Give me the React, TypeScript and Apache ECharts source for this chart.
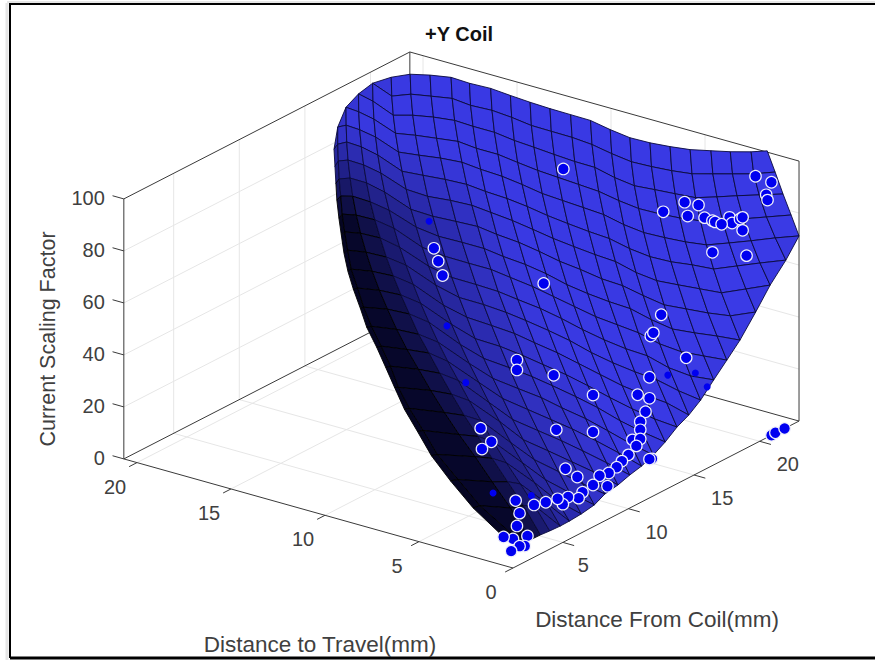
import React, { useEffect, useRef } from "react";
import * as echarts from "echarts";

const titleText = "+Y Coil";
const xAxisName = "Distance From Coil(mm)";
const yAxisName = "Distance to Travel(mm)";
const zAxisName = "Current Scaling Factor";
const xTicks = [5, 10, 15, 20];
const yTicks = [0, 5, 10, 15, 20];
const zTicks = [0, 20, 40, 60, 80, 100];

// surface: one x per mesh column; for each column the travel distance and the scaling factor per mesh row
const surfaceX = [1.2,1.8,2.5,3.3,4.0,4.8,5.5,6.4,7.4,8.2,9.2,10.1,11.0,11.9,12.8,13.7,14.6,15.5,16.5,17.5,18.5,19.7,20.8,22.0,23.0];
const surfaceFirstRow = [5,4,3,2,1,0,0,0,0,0,0,0,0,0,0,0,0,0,0,0,0,0,0,0,0];
const surfaceY = [
[9.52,9.47,9.42,9.37,9.26,9.13,8.99,8.78,8.49,8.12,7.78,7.25,6.77,6.3,5.77,5.08,4.34,3.33,2.12,0],
[9.74,9.74,9.71,9.66,9.58,9.5,9.37,9.21,9.02,8.68,8.36,7.94,7.43,6.93,6.51,5.93,5.19,4.44,3.33,2.17,0],
[9.79,9.78,9.75,9.68,9.57,9.43,9.24,9.01,8.72,8.39,8.01,7.58,7.09,6.54,5.93,5.28,4.55,3.77,2.92,2.01,1.04,0],
[9.68,9.67,9.62,9.53,9.41,9.25,9.05,8.81,8.52,8.2,7.83,7.42,6.97,6.48,5.93,5.35,4.72,4.05,3.33,2.57,1.75,.9,0],
[9.42,9.40,9.35,9.26,9.14,8.98,8.78,8.54,8.28,7.98,7.64,7.26,6.86,6.42,5.93,5.42,4.86,4.28,3.65,3,2.3,1.56,.8,0],
[8.99,8.96,8.88,8.76,8.6,8.41,8.19,7.94,7.65,7.33,6.99,6.61,6.2,5.77,5.3,4.83,4.32,3.78,3.21,2.62,2,1.36,.68,0],
[8.47,8.43,8.33,8.18,8,7.78,7.54,7.26,6.95,6.62,6.25,5.86,5.45,5.01,4.55,4.06,3.54,3.01,2.45,1.86,1.27,.64,0],
[8.04,7.98,7.86,7.69,7.48,7.23,6.95,6.66,6.33,5.97,5.59,5.19,4.76,4.31,3.84,3.34,2.84,2.3,1.76,1.19,.6,0],
[7.62,7.56,7.43,7.25,7.04,6.79,6.51,6.2,5.86,5.49,5.11,4.69,4.25,3.79,3.31,2.81,2.29,1.74,1.18,.6,0],
[7.2,7.14,7.01,6.83,6.6,6.35,6.06,5.75,5.4,5.02,4.62,4.2,3.74,3.28,2.79,2.28,1.73,1.17,.6,0],
[6.77,6.7,6.57,6.38,6.16,5.9,5.61,5.27,4.92,4.54,4.13,3.69,3.23,2.75,2.24,1.71,1.16,.6,0],
[6.35,6.28,6.14,5.96,5.72,5.45,5.15,4.81,4.45,4.06,3.63,3.19,2.71,2.22,1.7,1.16,.59,0],
[5.93,5.86,5.72,5.52,5.28,5,4.7,4.35,3.97,3.57,3.13,2.67,2.19,1.68,1.14,.58,0],
[5.5,5.43,5.28,5.08,4.83,4.55,4.23,3.88,3.49,3.07,2.62,2.15,1.65,1.12,.58,0],
[5.03,4.95,4.81,4.6,4.35,4.06,3.73,3.37,2.98,2.55,2.09,1.61,1.1,.56,0],
[4.6,4.52,4.37,4.16,3.9,3.6,3.27,2.89,2.48,2.05,1.58,1.08,.55,0],
[4.18,4.1,3.94,3.72,3.46,3.15,2.8,2.42,1.99,1.54,1.06,.54,0],
[3.76,3.68,3.52,3.29,3.02,2.69,2.33,1.94,1.5,1.03,.53,0],
[3.39,3.31,3.13,2.89,2.61,2.27,1.89,1.47,1.02,.53,0],
[3.02,2.93,2.75,2.5,2.2,1.84,1.44,1,.52,0],
[2.65,2.55,2.36,2.1,1.78,1.4,.98,.51,0],
[2.38,2.28,2.06,1.77,1.41,.99,.52,0],
[2.12,2,1.76,1.42,1.01,.54,0],
[1.85,1.71,1.42,1.03,.56,0],
[1.69,1.27,.85,.42,0],
];
const surfaceZ = [
[141.8,135.3,128.9,122.5,115.8,109.5,102.8,96.3,90,83.4,76.8,70.2,63.4,56.7,49.3,42.2,34.4,26.8,18.8,8.5],
[148.3,141.7,135.3,128.5,122.1,115.3,108.7,102,95.1,88.5,81.8,75.3,68.7,62,54.7,47.8,40.8,33.1,25.7,18,8.5],
[154,147.1,140.7,133.9,127.2,120.5,113.6,107.1,100.4,93.7,87.2,80.8,74,67.4,61,54.2,47.2,40.3,33.5,25.7,17.6,7.4],
[157.3,150.4,143.6,137.2,130.5,123.9,117,110.6,104.2,97.5,91,84.5,78.1,71.3,65.2,58.6,51.8,45,38.4,31.5,24.2,16.7,7.3],
[160.1,153.2,146.4,139.7,133,126.4,119.5,113,106.6,99.9,93.7,87.1,80.6,74.2,67.5,61.2,55,48.4,42,35.2,28.5,21.9,15,7],
[161.2,154,146.8,140.1,133.2,126.2,119.7,112.5,106.2,99.1,92.5,86,79.1,72.6,65.8,59.5,53.2,46.6,40.4,33.5,27,20.7,13.9,6.8],
[161.6,154,146.1,138.7,131.4,124.1,116.5,109.4,102.3,95.3,87.9,81,74.2,66.9,60.2,53.5,46.8,39.8,33.2,26.7,20.2,13.3,6.9],
[159.8,151.8,144,136.2,129,121.3,113.8,106.3,98.9,91.6,84.2,77.3,70.1,63,55.8,48.7,41.7,34.7,28,21.1,14.2,7.3],
[157.2,149.2,141,133.3,125.7,117.7,110.2,102.7,94.9,87.6,79.9,72.7,65.5,57.9,50.8,43.7,36.3,29.3,22.3,15,8.2],
[153.7,145.3,137.5,129.4,121.8,113.8,106.3,98.5,90.7,83.4,75.7,68.5,60.9,53.4,46.3,38.8,31.8,24.5,17.6,10.3],
[150,141.7,133.5,125.4,117.4,109.4,101.5,93.8,86,78.3,70.7,63.1,55.5,48,40.6,33.2,25.8,18.5,11.2],
[145.8,137.5,128.9,120.8,112.8,104.9,96.7,88.9,81.1,73.1,65.5,57.9,50,42.5,35.1,27.3,20,12.7],
[141.7,132.9,124.8,116.3,107.9,100,91.8,83.7,75.5,67.9,59.9,52,44.5,36.7,28.9,21.2,13.8],
[137.8,129.2,120.6,112.2,103.8,95.5,87.3,79.2,70.7,62.7,54.7,46.8,39,31.2,23.4,15.7],
[134.1,125.5,116.5,108.1,99.7,91.1,82.9,74.3,66.3,58.3,50,42.1,34.3,26.1,18.4],
[130.4,121.3,112.8,104,95.6,87,78.8,70.3,62.3,53.9,46,37.8,30,21.8],
[125.4,116.3,107.4,99,90.3,81.7,73.2,65.1,56.7,48.3,40.1,32.3,24.1],
[120.8,111.7,102.8,94.5,85.8,77.2,68.7,60.2,51.8,44,35.7,27.5],
[117,108,99.5,90.7,82.1,73.5,65.4,57,48.7,40.8,32.7],
[113.7,104.6,96.1,87.3,78.7,70.6,62.2,53.8,45.9,37.7],
[110.7,101.6,92.8,84.4,75.8,67.3,59,51.1,42.8],
[107.7,99,90.6,82.3,74.2,66.2,58.3,50.5],
[105,96.7,88.8,80.6,73,65.4,58],
[102.4,94.2,86.7,79,71.9,64.5],
[100.5,93.2,85.6,78.4,71.2],
];

// measured points [distance from coil, distance to travel, scaling factor]
const measured = [
[20.4,.5,99.9],[20.9,0,97.3],[20.5,0,93.5],[20.6,0,91.2],[16,1.2,99.9],[16.2,.6,99.5],[14.8,.2,99.7],[14.8,1.5,98.7],
[15.8,0,96.9],[16.4,0,94.2],[16.6,0,93.2],[17.7,0,92.1],[17.9,0,89.4],[18.5,0,89.4],[18.7,0,89.5],[17.1,0,91],[18.7,0,84.5],
[16.4,0,82],[19,0,74],[12.5,0,68.1],[11.7,0,62],[11.9,0,62.7],[14.4,0,46.6],[11.6,0,46.4],[11.6,0,38.3],[10.7,0,42],
[11.3,0,33.9],[10.9,0,31.1],[10.9,0,28],[10.3,0,25.7],[10.9,0,24.5],[10.6,0,22.6],[10,0,20.7],[9.5,0,19.6],[9.1,0,18.3],
[8.5,0,17.6],[7.8,0,18.4],[7.3,0,16.1],[8.4,0,12.8],[6.5,0,15.4],[6.2,0,13.9],[5.4,0,16.4],[5,0,14.7],[4.6,0,17.8],
[3.7,0,18.8],[2.8,0,20.1],[1.4,0,25.4],[1.7,0,19.8],[1.5,0,15.4],[2.3,0,9.5],[1.2,0,11.2],[2.1,0,6.1],[1.7,0,7.1],
[1.2,.5,10.9],[1.2,.1,6.3],[5.2,0,27.8],[6.1,0,22.3],[4.5,0,44.6],[7.3,0,36.5],[7.3,0,50.7],[4.3,0,66.1],[1.5,0,79.2],
[1.5,0,75.4],[4.4,.6,99.9],[16.5,8,97.6],[11.8,0,14.5],[11.6,0,14.9],[20.9,0,0],[21.2,0,.2],[21.9,0,0],
[5.2,7,98.4],[4.1,6,98.3],[3,5,97.7],[1.6,2,48.7],[1.7,1.5,44.2],[1.7,2,40.4],
];
const occluded = [
[7.7,9,98.3],[1.9,4,83.2],[1.9,3,63.4],[1.4,1.2,25.9],[2.6,0,24.2],[16,0,31.3],[13,0,43.6],[15.1,0,39],
];

const X_MIN = 1.2, X_MAX = 23, Y_MIN = 0, Y_MAX = 20.7;

// orthographic view of the box on the page
const project = (x: number, y: number, z: number) => [
  513 + 13.12 * (x - X_MIN) - 18.8 * y,
  568 - 6.74 * (x - X_MIN) - 5.27 * y - 2.6 * z,
];

const nodeOf = (col: number, row: number) => {
  const first = surfaceFirstRow[col];
  const last = first + surfaceY[col].length - 1;
  const r = Math.min(last, Math.max(first, row));
  return project(surfaceX[col], surfaceY[col][r - first], surfaceZ[col][r - first]);
};

const polyArea = (pts: number[][]) => {
  let a = 0;
  pts.forEach((p, i) => {
    const q = pts[(i + 1) % pts.length];
    a += p[0] * q[1] - q[0] * p[1];
  });
  return Math.abs(a) / 2;
};

const clamp01 = (v: number) => Math.max(0, Math.min(1, v));
// the reference mesh grows dense and almost black towards its left fold
const foldDarkness = [0.98, 0.94, 0.8, 0.62, 0.5, 0.4, 0.32, 0.25, 0.18, 0.12, 0.08, 0.04];

const cells: number[][] = [];
for (let c = 0; c < surfaceX.length - 1; c++) {
  for (let r = 0; r < 24; r++) {
    const inA = r + 1 > surfaceFirstRow[c] && r < surfaceFirstRow[c] + surfaceY[c].length - 1;
    const inB = r + 1 > surfaceFirstRow[c + 1] && r < surfaceFirstRow[c + 1] + surfaceY[c + 1].length - 1;
    if (inA || inB) cells.push([c, r]);
  }
}

type Seg = [number, number, number, number, number, number];
const lightSegs: Seg[] = [];
xTicks.forEach((t) => {
  lightSegs.push([t, Y_MIN, 0, t, Y_MAX, 0], [t, Y_MAX, 0, t, Y_MAX, 100]);
});
yTicks.filter((t) => t > 0).forEach((t) => {
  lightSegs.push([X_MIN, t, 0, X_MAX, t, 0], [X_MAX, t, 0, X_MAX, t, 100]);
});
zTicks.filter((t) => t > 0 && t < 100).forEach((t) => {
  lightSegs.push([X_MIN, Y_MAX, t, X_MAX, Y_MAX, t], [X_MAX, Y_MAX, t, X_MAX, Y_MIN, t]);
});
const darkSegs: Seg[] = [
  [X_MIN, Y_MAX, 0, X_MIN, Y_MIN, 0],
  [X_MIN, Y_MIN, 0, X_MAX, Y_MIN, 0],
  [X_MIN, Y_MAX, 0, X_MAX, Y_MAX, 0],
  [X_MAX, Y_MIN, 0, X_MAX, Y_MAX, 0],
  [X_MIN, Y_MAX, 0, X_MIN, Y_MAX, 100],
  [X_MAX, Y_MAX, 0, X_MAX, Y_MAX, 100],
  [X_MAX, Y_MIN, 0, X_MAX, Y_MIN, 100],
  [X_MIN, Y_MAX, 100, X_MAX, Y_MAX, 100],
  [X_MAX, Y_MAX, 100, X_MAX, Y_MIN, 100],
];
xTicks.forEach((t) => darkSegs.push([t, Y_MIN, 0, t, Y_MIN - 0.6, 0]));
yTicks.forEach((t) => darkSegs.push([X_MIN, t, 0, X_MIN - 0.6, t, 0]));
zTicks.forEach((t) => darkSegs.push([X_MIN, Y_MAX, t, X_MIN, Y_MAX + 0.6, t]));

const FONT = '"Liberation Sans", Arial, sans-serif';
const LABEL = "#404040";

const segSeries = (segs: Seg[], color: string, width: number, z: number) => ({
  type: "custom",
  coordinateSystem: "cartesian2d",
  silent: true,
  clip: false,
  z,
  data: segs.map((s) => [...s]),
  renderItem: (_: any, api: any) => {
    const a = api.coord(project(api.value(0), api.value(1), api.value(2)));
    const b = api.coord(project(api.value(3), api.value(4), api.value(5)));
    return {
      type: "line",
      shape: { x1: a[0], y1: a[1], x2: b[0], y2: b[1] },
      style: { stroke: color, lineWidth: width },
    };
  },
});

const labelSeries = (items: any[], z: number) => ({
  type: "custom",
  coordinateSystem: "cartesian2d",
  silent: true,
  clip: false,
  z,
  data: items.map((_, i) => [i]),
  renderItem: (_: any, api: any) => {
    const it = items[api.value(0)];
    const p = api.coord(project(it.at[0], it.at[1], it.at[2]));
    return {
      type: "text",
      style: {
        text: it.text,
        x: p[0] + it.dx,
        y: p[1] + it.dy,
        fill: LABEL,
        font: `20px ${FONT}`,
        textAlign: it.align,
        textVerticalAlign: "middle",
      },
    };
  },
});

const tickLabels = [
  ...xTicks.map((t) => ({ text: String(t), at: [t, 0, 0], dx: t < 10 ? 15 : 17, dy: 23, align: "left" })),
  ...yTicks.map((t) => ({ text: String(t), at: [X_MIN, t, 0], dx: -22, dy: 24, align: "center" })),
  ...zTicks.map((t) => ({ text: String(t), at: [X_MIN, Y_MAX, t], dx: -19, dy: -1, align: "right" })),
];

const frameLine = (x1: number, y1: number, x2: number, y2: number, stroke: string, lineWidth: number) => ({
  type: "line",
  shape: { x1, y1, x2, y2 },
  style: { stroke, lineWidth },
  silent: true,
  z: 0,
});

export default function App() {
  const ref = useRef<HTMLDivElement>(null);
  useEffect(() => {
    document.body.style.margin = "0";
    const chart = echarts.init(ref.current!, undefined, { renderer: "svg" });
    chart.setOption({
      animation: false,
      backgroundColor: "#ffffff",
      grid: { left: 0, right: 0, top: 0, bottom: 0 },
      xAxis: { type: "value", min: 0, max: 875, show: false },
      yAxis: { type: "value", min: 0, max: 660, inverse: true, show: false },
      graphic: [
        frameLine(7, 3, 7, 660, "#e6e6e6", 3),
        frameLine(7, 2, 875, 2, "#e6e6e6", 2),
        frameLine(10, 4, 875, 4, "#000000", 2),
        frameLine(10, 3, 10, 658, "#000000", 2),
        frameLine(10, 658, 875, 658, "#000000", 3),
        { type: "text", x: 425, y: 34, style: { text: titleText, font: `bold 20px ${FONT}`, fill: "#111111", textAlign: "left", textVerticalAlign: "middle" }, z: 10 },
        { type: "text", x: 657, y: 619, style: { text: xAxisName, font: `22.5px ${FONT}`, fill: LABEL, textAlign: "center", textVerticalAlign: "middle" }, z: 10 },
        { type: "text", x: 320, y: 644, style: { text: yAxisName, font: `22.5px ${FONT}`, fill: LABEL, textAlign: "center", textVerticalAlign: "middle" }, z: 10 },
        { type: "text", x: 48, y: 339, rotation: Math.PI / 2, style: { text: zAxisName, font: `21.5px ${FONT}`, fill: LABEL, textAlign: "center", textVerticalAlign: "middle" }, z: 10 },
      ],
      series: [
        segSeries(lightSegs, "#e6e6e6", 1, 1),
        segSeries(darkSegs, "#3a3a3a", 1, 2),
        labelSeries(tickLabels, 3),
        {
          type: "custom",
          coordinateSystem: "cartesian2d",
          silent: true,
          clip: false,
          z: 4,
          data: cells,
          renderItem: (_: any, api: any) => {
            const c = api.value(0);
            const r = api.value(1);
            const raw = [nodeOf(c, r), nodeOf(c + 1, r), nodeOf(c + 1, r + 1), nodeOf(c, r + 1)];
            const pts = raw.map((p) => api.coord(p));
            const mx = pts.reduce((s, p) => s + p[0], 0) / 4;
            const my = pts.reduce((s, p) => s + p[1], 0) / 4;
            const side = Math.sqrt(Math.max(polyArea(pts), 0.5));
            const dense = 1.7 / side;
            const fold = (foldDarkness[c] || 0) * clamp01((my - 110) / 110);
            const lower = 0.95 * clamp01((my - 290) / 250) * clamp01((650 - mx) / 200);
            const cov = Math.min(0.98, Math.max(dense, fold, lower));
            const ch = (v: number, l: number) => Math.round(v * (1 - cov) + l * cov);
            const lineDark = cov > 0.7 ? "#000000" : "#0a0a3c";
            return {
              type: "polygon",
              shape: { points: pts },
              style: {
                fill: `rgb(${ch(62, 4)},${ch(62, 4)},${ch(245, 30)})`,
                stroke: lineDark,
                lineWidth: 0.9,
              },
            };
          },
        },
        {
          type: "scatter",
          z: 5,
          silent: true,
          symbol: "circle",
          symbolSize: 7,
          itemStyle: { color: "#0000f0", opacity: 1 },
          data: occluded.map((d) => project(d[0], d[1], d[2])),
        },
        {
          type: "scatter",
          z: 6,
          silent: true,
          symbol: "circle",
          symbolSize: 11.5,
          itemStyle: { color: "#0000f0", opacity: 1, borderColor: "#f0f0fa", borderWidth: 1.2 },
          data: measured.map((d) => project(d[0], d[1], d[2])),
        },
      ],
    });
    return () => chart.dispose();
  }, []);
  return <div ref={ref} style={{ position: "absolute", left: 0, top: 0, width: 875, height: 660 }} />;
}
